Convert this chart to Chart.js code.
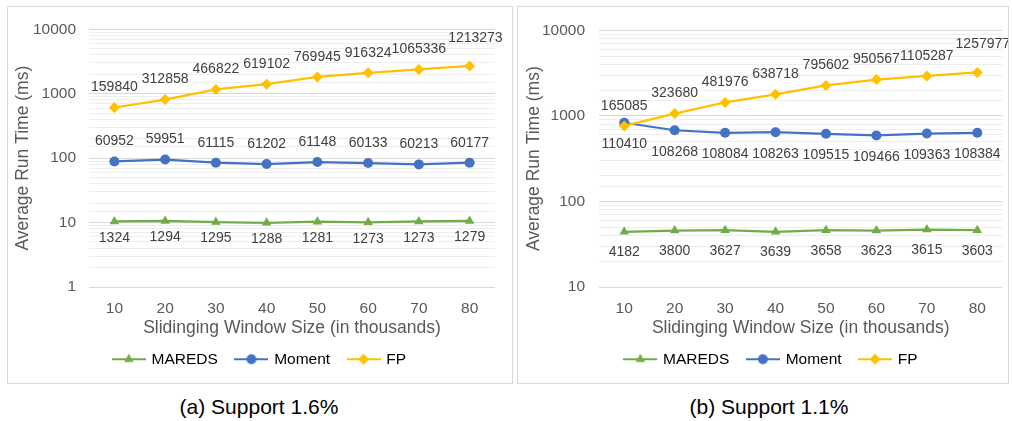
<!DOCTYPE html>
<html>
<head>
<meta charset="utf-8">
<title>Average Run Time vs Sliding Window Size</title>
<script src="https://cdn.jsdelivr.net/npm/chart.js@4.4.1/dist/chart.umd.min.js"></script>
<style>
  html, body { margin: 0; padding: 0; background: #fff; }
  body { width: 1012px; height: 421px; position: relative; overflow: hidden;
         font-family: "Liberation Sans", Arial, sans-serif; }
  .panel { position: absolute; top: 6px; height: 376px; border: 1px solid #d9d9d9; background: #fff; }
  #panelA { left: 7px; width: 504px; }
  #panelB { left: 517px; width: 490px; }
  .panel canvas { display: block; }
  .caption { position: absolute; top: 395px; font-size: 21px; line-height: 24px; color: #000;
             white-space: nowrap; transform: translateX(-50%); }
</style>
</head>
<body>
<div class="panel" id="panelA"><canvas id="chartA" width="504" height="376"></canvas></div>
<div class="panel" id="panelB"><canvas id="chartB" width="490" height="376"></canvas></div>
<div class="caption" style="left:259px">(a) Support 1.6%</div>
<div class="caption" style="left:769px">(b) Support 1.1%</div>
<script>
// Sliding window sizes (thousands)
const windowSizes = ['10', '20', '30', '40', '50', '60', '70', '80'];
const seriesNames = ['MAREDS', 'Moment', 'FP'];

// Support 1.6% — average run time (ms)
const maredsTimeA = [10.4, 10.6, 10.2, 9.9, 10.3, 10.1, 10.4, 10.6];
const momentTimeA = [89, 95, 85, 81, 87, 84, 80, 85];
const fpTimeA     = [611, 810, 1164, 1406, 1819, 2115, 2383, 2705];
// Support 1.6% — annotated counts
const maredsLabelsA = ['1324', '1294', '1295', '1288', '1281', '1273', '1273', '1279'];
const momentLabelsA = ['60952', '59951', '61115', '61202', '61148', '60133', '60213', '60177'];
const fpLabelsA     = ['159840', '312858', '466822', '619102', '769945', '916324', '1065336', '1213273'];

// Support 1.1% — average run time (ms)
const maredsTimeB = [44.2, 45.6, 46.1, 44.2, 46.1, 45.6, 46.9, 46.1];
const momentTimeB = [831, 679, 634, 644, 617, 590, 622, 634];
const fpTimeB     = [762, 1064, 1435, 1786, 2265, 2654, 2925, 3217];
// Support 1.1% — annotated counts
const maredsLabelsB = ['4182', '3800', '3627', '3639', '3658', '3623', '3615', '3603'];
const momentLabelsB = ['110410', '108268', '108084', '108263', '109515', '109466', '109363', '108384'];
const fpLabelsB     = ['165085', '323680', '481976', '638718', '795602', '950567', '1105287', '1257977'];

const FONT = '"Liberation Sans", Arial, sans-serif';
const COLORS = { MAREDS: '#70AD47', Moment: '#4472C4', FP: '#FFC000' };
const MARKERS = {
  MAREDS: { pointStyle: 'triangle', radius: 5.5 },
  Moment: { pointStyle: 'circle', radius: 5 },
  FP:     { pointStyle: 'rectRot', radius: 5.5 }
};

// Legend swatch: a short line with the series marker in the middle
function legendSwatch(name) {
  const c = document.createElement('canvas');
  c.width = 34; c.height = 14;
  const g = c.getContext('2d');
  g.strokeStyle = COLORS[name];
  g.fillStyle = COLORS[name];
  g.lineWidth = 2;
  g.beginPath(); g.moveTo(0, 7); g.lineTo(34, 7); g.stroke();
  Chart.helpers.drawPoint(g, { pointStyle: MARKERS[name].pointStyle, radius: MARKERS[name].radius, borderWidth: 0, rotation: 0 }, 17, 7);
  return c;
}

// Draws each point's count annotation above or below the marker;
// a label that would run into its left neighbour is nudged right and up.
const pointLabels = {
  id: 'pointLabels',
  afterDatasetsDraw(chart) {
    const ctx = chart.ctx;
    ctx.save();
    ctx.font = '14px ' + FONT;
    ctx.fillStyle = '#404040';
    ctx.textAlign = 'center';
    ctx.textBaseline = 'middle';
    chart.data.datasets.forEach((ds, i) => {
      const meta = chart.getDatasetMeta(i);
      let prevRight = -Infinity;
      meta.data.forEach((pt, j) => {
        const text = ds.valueLabels[j];
        const w = ctx.measureText(text).width;
        let x = pt.x;
        let y = pt.y + (ds.labelSide === 'below' ? ds.labelGap : -ds.labelGap);
        const overlap = prevRight - (x - w / 2);
        if (overlap > 1) {
          x += overlap + 2;
          y += ds.labelSide === 'below' ? 8 : -8;
        }
        ctx.fillText(text, x, y);
        prevRight = x + w / 2;
      });
    });
    ctx.restore();
  }
};

function makeDataset(name, values, labels, side, gap, order) {
  return {
    label: name,
    data: values,
    valueLabels: labels,
    labelSide: side,
    labelGap: gap,
    order: order,
    borderColor: COLORS[name],
    backgroundColor: COLORS[name],
    borderWidth: 2.25,
    pointStyle: MARKERS[name].pointStyle,
    pointRadius: MARKERS[name].radius,
    pointHoverRadius: MARKERS[name].radius,
    pointBorderWidth: 0,
    tension: 0,
    fill: false
  };
}

function makeChart(id, datasets, yMin, yMax, lay) {
  return new Chart(document.getElementById(id), {
    type: 'line',
    data: { labels: windowSizes, datasets: datasets },
    options: {
      responsive: false,
      animation: false,
      layout: { padding: { top: 18, left: lay.padLeft, right: lay.padRight, bottom: 6 } },
      plugins: {
        tooltip: { enabled: false },
        legend: {
          position: 'bottom',
          labels: {
            usePointStyle: true,
            pointStyleWidth: 30,
            padding: 18.5,
            color: '#595959',
            font: { family: FONT, size: 15.5 },
            generateLabels: (chart) => chart.data.datasets.map((ds, i) => ({
              text: ds.label,
              pointStyle: legendSwatch(ds.label),
              fillStyle: ds.borderColor,
              strokeStyle: ds.borderColor,
              lineWidth: 0,
              hidden: false,
              datasetIndex: i
            }))
          }
        }
      },
      scales: {
        x: {
          offset: true,
          grid: { display: false },
          border: { display: false },
          ticks: { color: '#595959', font: { family: FONT, size: 15.5 }, padding: 4.7, maxRotation: 0 },
          title: {
            display: true,
            text: 'Slidinging Window Size (in thousands)',
            color: '#595959',
            font: { family: FONT, size: 17.5 },
            padding: { top: 0, bottom: -6 }
          },
          afterFit: (s) => { s.height = 46; }
        },
        y: {
          type: 'logarithmic',
          min: yMin,
          max: yMax,
          border: { display: false },
          grid: {
            drawTicks: false,
            color: (c) => {
              const v = c.tick ? c.tick.value : 0;
              const e = Math.log10(v);
              return Math.abs(e - Math.round(e)) < 1e-9 ? '#d9d9d9' : '#eeeeee';
            },
            lineWidth: 1
          },
          ticks: {
            autoSkip: false,
            padding: lay.tickPad,
            color: '#595959',
            font: { family: FONT, size: 15.5 },
            callback: (v) => {
              const e = Math.log10(v);
              return Math.abs(e - Math.round(e)) < 1e-9 ? String(Math.round(v)) : '';
            }
          },
          title: {
            display: true,
            text: 'Average Run Time (ms)',
            color: '#595959',
            font: { family: FONT, size: 17.5 },
            padding: { top: lay.titlePad, bottom: 0 }
          },
          afterFit: (s) => { s.width = lay.axisWidth; }
        }
      }
    },
    plugins: [pointLabels]
  });
}

makeChart('chartA', [
  makeDataset('MAREDS', maredsTimeA, maredsLabelsA, 'below', 16.5, 2),
  makeDataset('Moment', momentTimeA, momentLabelsA, 'above', 20, 1),
  makeDataset('FP', fpTimeA, fpLabelsA, 'above', 20, 0)
], 1, 10000, { padLeft: 17, padRight: 17, axisWidth: 64, tickPad: 13, titlePad: -12 });

makeChart('chartB', [
  makeDataset('MAREDS', maredsTimeB, maredsLabelsB, 'below', 20.5, 2),
  makeDataset('Moment', momentTimeB, momentLabelsB, 'below', 21.5, 1),
  makeDataset('FP', fpTimeB, fpLabelsB, 'above', 20, 0)
], 10, 10000, { padLeft: 20.5, padRight: 3.5, axisWidth: 60.5, tickPad: 14, titlePad: -15 });
</script>
</body>
</html>
